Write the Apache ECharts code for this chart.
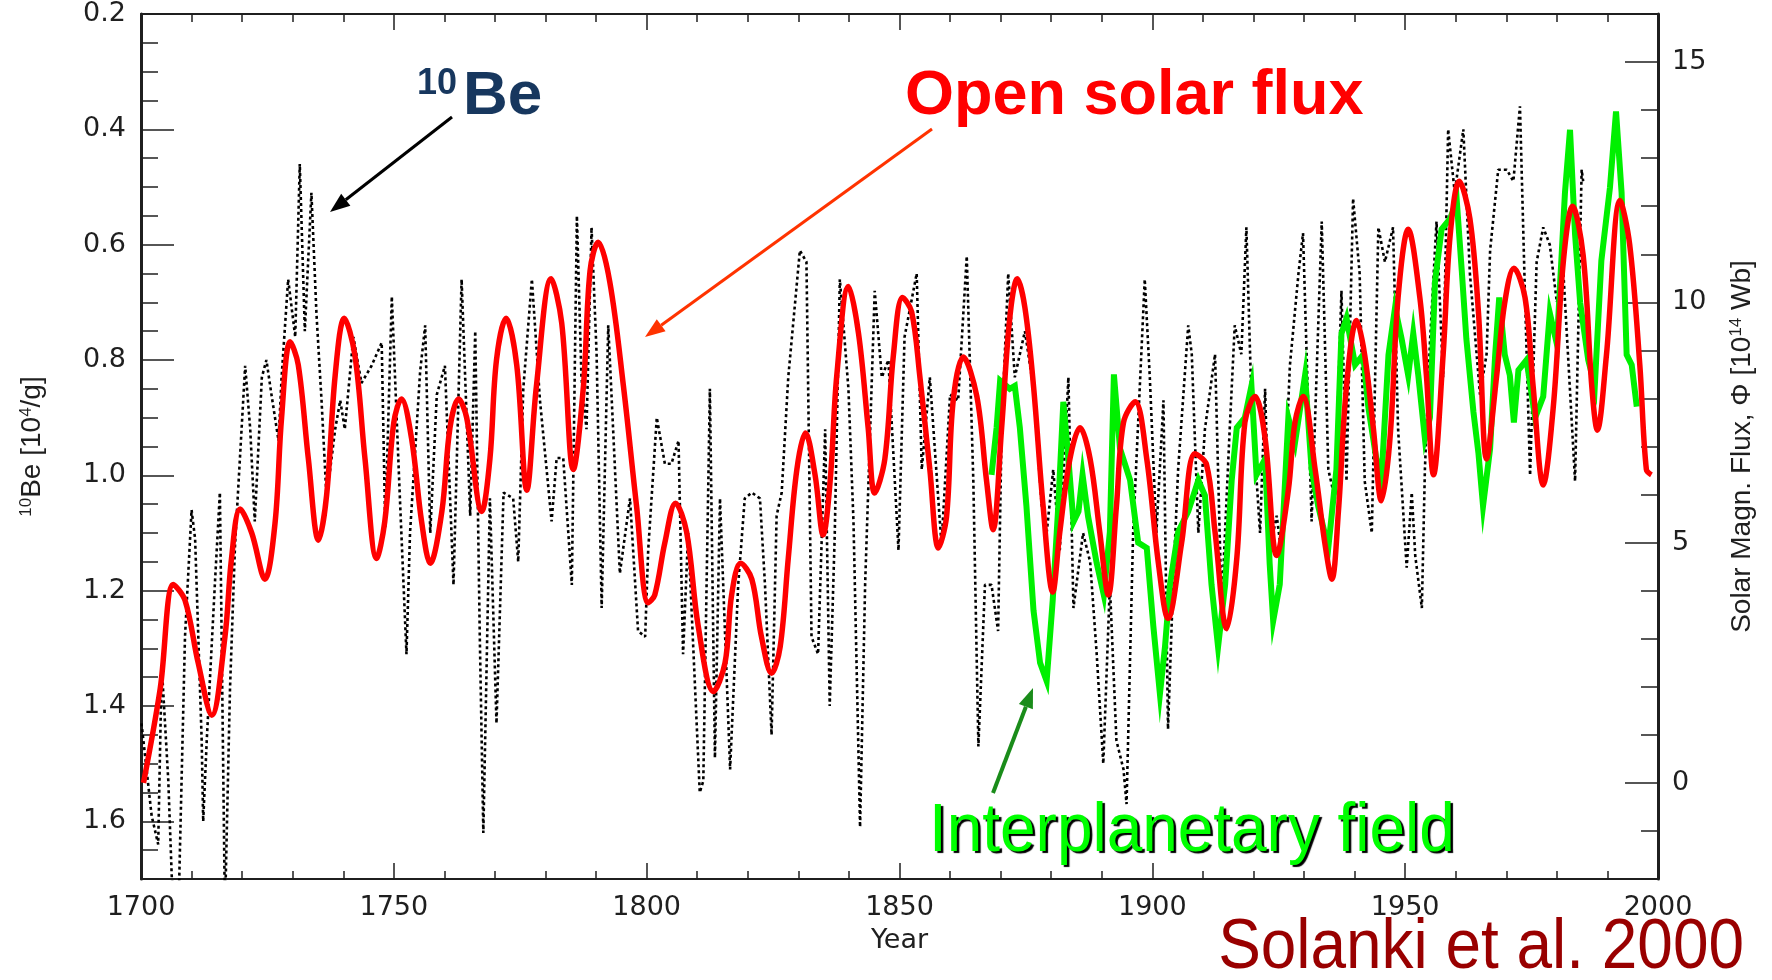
<!DOCTYPE html>
<html>
<head>
<meta charset="utf-8">
<script src="https://cdn.jsdelivr.net/npm/echarts@6/dist/echarts.min.js"></script>
<style>
  html, body { margin: 0; padding: 0; background: #ffffff; }
  #chart { width: 1772px; height: 980px; }
</style>
</head>
<body>
<div id="chart"></div>
<script>
// 10Be concentration in ice [10^4 atoms/g] (left axis, plotted inverted)
const beYears = [1700.1,1702.1,1703.4,1704.1,1705.4,1706.1,1707.4,1708.7,1710.0,1710.7,1712.0,1712.3,1713.0,1714.6,1715.6,1716.3,1716.6,1717.6,1718.6,1720.6,1721.6,1722.5,1723.9,1724.8,1725.8,1727.2,1727.8,1729.1,1729.8,1730.5,1731.4,1732.4,1733.7,1734.7,1735.7,1736.7,1738.4,1739.4,1740.3,1742.0,1743.6,1745.6,1747.6,1748.3,1749.6,
  1751.2,1752.5,1753.2,1755.2,1756.2,1757.2,1758.5,1760.1,1761.8,1763.4,1765.1,1766.1,1767.0,1767.7,1769.0,1770.3,1771.7,1773.6,1774.6,1775.6,1777.3,1778.9,1781.2,1782.2,1783.5,1785.2,1786.2,1787.1,1788.1,1789.1,1790.1,1791.1,1792.4,1794.7,1796.7,1798.3,1799.7,
  1800.3,1802.0,1803.6,1804.9,1806.3,1807.2,1808.2,1810.5,1811.2,1812.5,1813.5,1814.5,1816.5,1818.1,1819.4,1820.8,1822.4,1823.4,1824.7,1825.7,1826.7,1828.0,1830.3,1831.6,1832.6,1833.9,1835.3,1836.2,1837.2,1838.2,1839.9,1840.9,1842.2,1843.2,1845.1,1846.5,1847.8,1849.8,
  1851.0,1853.4,1854.4,1856.0,1858.3,1860.0,1861.6,1863.3,1864.6,1865.6,1866.9,1868.2,1869.5,1870.2,1871.5,1872.8,1874.8,1876.5,1878.1,1879.1,1880.4,1881.7,1883.4,1884.4,1886.3,1887.7,1889.0,1890.3,1891.6,1892.9,1894.3,1894.9,1896.2,1897.5,1898.5,1899.5,
  1900.8,1902.2,1903.1,1904.1,1905.1,1907.1,1907.8,1909.1,1910.4,1912.4,1913.7,1915.3,1916.3,1917.6,1918.6,1919.6,1921.3,1922.3,1923.2,1924.6,1925.6,1927.2,1928.9,1929.8,1931.5,1933.5,1934.8,1936.1,1937.4,1938.4,1939.7,1941.0,1942.0,1943.4,1944.7,1946.0,1947.6,1948.6,
  1950.3,1951.3,1952.0,1953.3,1953.9,1954.9,1956.2,1957.5,1958.5,1959.8,1961.5,1962.8,1964.8,1966.1,1966.8,1968.4,1970.1,1971.4,1972.7,1973.7,1974.7,1976.0,1977.3,1978.6,1980.0,1981.3,1983.6,1984.9,1985.2];
const beValues = [1.43,1.59,1.64,1.33,1.53,1.70,1.76,1.28,1.06,1.11,1.46,1.60,1.46,1.19,1.03,1.54,1.76,1.37,1.12,0.81,0.92,1.08,0.83,0.80,0.86,0.94,0.83,0.66,0.71,0.76,0.46,0.75,0.51,0.72,0.87,1.04,0.92,0.87,0.92,0.76,0.84,0.81,0.77,1.09,0.69,
  1.04,1.31,1.10,0.82,0.74,1.10,0.86,0.81,1.19,0.66,1.07,0.75,1.28,1.62,1.04,1.43,1.03,1.04,1.15,0.85,0.66,0.87,1.08,0.97,0.97,1.19,0.55,0.83,0.92,0.57,0.79,1.23,0.74,1.17,1.04,1.27,1.28,
  1.13,0.90,0.98,0.98,0.94,1.31,1.10,1.55,1.53,0.85,1.49,1.04,1.51,1.19,1.04,1.03,1.04,1.19,1.45,1.07,1.03,0.83,0.61,0.63,1.28,1.31,0.92,1.40,1.10,0.66,0.85,1.08,1.61,1.19,0.68,0.83,0.80,1.13,
  0.76,0.65,0.99,0.83,1.12,0.86,0.87,0.62,1.01,1.47,1.19,1.19,1.27,0.92,0.65,0.83,0.75,0.85,1.05,1.10,0.99,1.13,0.83,1.23,1.10,1.15,1.31,1.50,1.19,1.46,1.51,1.57,1.10,0.85,0.66,0.83,
  1.10,0.87,1.44,1.19,0.99,0.74,0.79,1.10,0.92,0.79,1.23,0.92,0.74,0.79,0.57,0.87,1.10,0.85,1.13,1.07,1.14,0.81,0.65,0.58,1.08,0.56,0.99,1.04,0.68,1.01,0.52,0.65,1.01,1.10,0.57,0.63,0.57,0.92,
  1.16,1.03,1.14,1.23,0.99,0.77,0.56,0.83,0.40,0.51,0.40,0.65,0.86,0.79,0.61,0.47,0.47,0.49,0.36,0.69,1.00,0.63,0.57,0.60,0.70,0.65,1.01,0.47,0.49];

// Open solar magnetic flux [10^14 Wb] (right axis)
const fluxYears = [1700.5,1703.8,1706.4,1708.7,1711.3,1714.0,1716.6,1717.9,1719.6,1721.9,1724.5,1726.5,1727.8,1729.5,1731.1,1733.1,1735.1,1736.7,1738.4,1740.2,1742.3,1744.3,1746.6,1748.2,
  1750.0,1751.5,1753.5,1755.5,1757.2,1759.5,1761.1,1762.8,1764.4,1767.4,1769.0,1770.3,1772.2,1774.3,1776.3,1778.2,1781.1,1783.2,1785.5,1787.5,1788.8,1790.4,1792.7,1795.4,1798.0,
  1800.3,1801.6,1803.6,1805.7,1807.9,1810.2,1813.2,1815.5,1816.8,1818.6,1820.8,1822.7,1824.7,1826.4,1828.0,1829.7,1831.4,1833.3,1834.9,1836.3,1837.6,1839.9,1841.9,1843.8,1845.1,1847.1,1848.8,
  1850.6,1852.4,1854.0,1856.0,1857.7,1859.3,1860.6,1862.6,1865.3,1867.2,1868.5,1870.2,1871.8,1873.3,1874.8,1876.5,1878.4,1880.3,1881.7,1883.7,1885.7,1887.7,1889.6,1891.3,1892.9,1894.3,1896.6,1898.9,
  1901.2,1903.1,1905.8,1908.4,1910.7,1912.4,1914.7,1916.7,1918.3,1920.3,1922.3,1924.6,1926.9,1928.2,1929.8,1932.2,1934.1,1935.5,1936.8,1938.4,1940.4,1942.0,1943.7,1945.3,1947.0,1948.6,
  1950.6,1952.9,1954.2,1955.6,1957.5,1958.9,1960.7,1962.8,1964.5,1966.1,1968.1,1969.7,1971.5,1973.7,1975.3,1977.3,1979.3,1981.3,1983.1,1985.2,1986.9,1988.0,1989.8,1992.5,1994.4,1996.4,1997.7,1998.7];
const fluxValues = [0.0,1.96,4.13,3.8,2.5,1.41,3.04,4.67,5.7,5.2,4.24,5.4,7.6,9.18,8.7,6.74,5.05,5.98,8.48,9.67,8.9,6.74,4.67,5.43,
  7.5,7.99,7.17,5.43,4.57,5.65,7.39,7.99,7.6,5.65,6.74,8.8,9.67,8.7,6.09,8.26,10.49,9.57,6.52,8.26,10.65,11.25,10.43,8.26,5.76,
  3.75,3.91,5.0,5.82,5.22,3.26,1.9,2.5,3.91,4.57,4.24,3.04,2.28,2.83,4.67,6.52,7.28,6.41,5.16,6.3,8.48,10.33,9.35,7.39,6.03,6.74,8.91,
  10.1,9.8,8.48,6.52,4.89,5.54,7.93,8.86,8.04,6.3,5.27,7.39,9.67,10.49,9.89,8.26,5.76,3.97,5.22,6.74,7.39,6.74,5.22,3.91,5.76,7.5,7.93,6.74,
  4.57,3.42,5.0,6.85,6.63,5.22,3.21,4.67,7.5,8.04,7.17,4.73,6.09,7.5,8.04,6.52,5.0,4.24,5.65,8.26,9.62,8.9,7.39,5.87,7.17,10.1,
  11.52,10.1,8.48,6.41,8.9,11.4,12.52,11.74,9.78,6.74,8.48,10.0,10.71,10.1,8.26,6.2,7.83,10.87,12.0,10.98,8.26,7.34,8.9,12.12,11.2,8.7,6.52,6.41];

// Interplanetary magnetic flux from geomagnetic data [10^14 Wb] (right axis)
const imfYears = [1868.2,1869.2,1869.9,1871.8,1872.8,1873.8,1875.1,1876.5,1877.8,1879.1,1880.3,1881.4,1882.4,1883.4,1884.4,1885.4,1886.2,1887.3,1889.0,1890.4,1891.6,1892.4,1893.6,1895.6,1897.2,1898.9,
  1900.2,1901.5,1902.5,1903.5,1905.1,1907.1,1909.1,1910.4,1911.7,1913.0,1914.4,1915.7,1916.7,1918.3,1919.6,1920.6,1922.3,1923.2,1923.9,1925.2,1926.9,1928.2,1930.2,1931.5,1932.8,1934.8,1936.4,1937.4,1938.4,1940.1,1941.7,1942.7,1944.3,1945.3,1946.7,1948.0,1949.3,
  1950.6,1951.6,1952.6,1953.9,1954.9,1955.9,1957.2,1958.9,1960.2,1961.2,1962.1,1963.5,1964.5,1965.4,1966.8,1967.8,1968.6,1969.7,1970.7,1971.5,1972.4,1974.0,1975.7,1977.3,1978.6,1980.0,1981.6,1982.6,1983.6,1984.6,1986.2,1987.5,1988.8,1990.5,1991.7,1992.8,1993.8,1994.8,1995.8];
const imfValues = [6.41,7.39,8.37,8.2,8.26,7.39,5.76,3.59,2.5,2.12,3.8,5.76,7.93,6.74,5.43,5.65,6.41,5.54,4.57,3.91,5.22,8.5,6.96,6.3,5.0,4.89,
  3.26,1.85,2.83,4.13,5.22,5.65,6.3,5.98,4.13,2.83,4.13,6.3,7.39,7.6,8.26,6.41,6.74,4.57,3.37,4.13,7.6,7.07,8.48,6.52,5.76,4.89,6.52,9.35,9.67,8.7,8.91,7.83,6.74,6.3,8.91,9.89,9.24,
  8.48,9.35,8.48,7.17,7.6,10.43,11.52,11.74,12.12,10.65,9.24,7.72,6.85,5.76,6.96,8.91,10.1,8.91,8.48,7.5,8.59,8.8,7.6,8.04,9.78,9.13,12.28,13.59,11.41,10.0,8.8,8.26,10.87,12.39,13.97,12.28,8.91,8.7,7.83];

const pairs = (xs, ys) => xs.map((x, i) => [x, ys[i]]);

const ink = '#1f1f1f';
const tickFont = { fontFamily: 'DejaVu Sans', fontSize: 27, color: ink };
const nameFont = { fontFamily: 'Liberation Sans', fontSize: 28, color: ink };
const supStyle = { fontFamily: 'Liberation Sans', fontSize: 17, verticalAlign: 'top', color: ink };
const frameY = { show: true, onZero: false, lineStyle: { color: ink, width: 3 } };
const frameX = { show: true, onZero: false, lineStyle: { color: ink, width: 2 } };
const tickLine = { color: ink, width: 1.5 };

// arrow as a shaft plus a triangular head, in pixel space
function arrow(x1, y1, x2, y2, color, width, headLen, headW) {
  const a = Math.atan2(y2 - y1, x2 - x1);
  const bx = x2 - headLen * Math.cos(a), by = y2 - headLen * Math.sin(a);
  const nx = -Math.sin(a) * headW / 2, ny = Math.cos(a) * headW / 2;
  return [
    { type: 'line', z: 100, shape: { x1: x1, y1: y1, x2: bx, y2: by }, style: { stroke: color, lineWidth: width } },
    { type: 'polygon', z: 100, shape: { points: [[x2, y2], [bx + nx, by + ny], [bx - nx, by - ny]] }, style: { fill: color } }
  ];
}

const chart = echarts.init(document.getElementById('chart'), null, { renderer: 'canvas' });

chart.setOption({
  backgroundColor: '#ffffff',
  animation: false,
  grid: { left: 141, right: 114, top: 14, bottom: 101 },
  xAxis: [
    {
      type: 'value', position: 'bottom', min: 1700, max: 2000, interval: 50,
      axisLine: frameX,
      axisTick: { show: true, inside: true, length: 16, lineStyle: tickLine },
      minorTick: { show: true, splitNumber: 5, length: 8, lineStyle: tickLine },
      axisLabel: Object.assign({ margin: 15, formatter: v => String(v) }, tickFont),
      splitLine: { show: false },
      name: 'Year', nameLocation: 'middle', nameGap: 48,
      nameTextStyle: { fontFamily: 'DejaVu Sans', fontSize: 27, color: ink }
    },
    {
      type: 'value', position: 'top', min: 1700, max: 2000, interval: 50,
      axisLine: frameX,
      axisTick: { show: true, inside: true, length: 16, lineStyle: tickLine },
      minorTick: { show: true, splitNumber: 5, length: 8, lineStyle: tickLine },
      axisLabel: { show: false },
      splitLine: { show: false }
    }
  ],
  yAxis: [
    {
      type: 'value', position: 'left', inverse: true, min: 0.2, max: 1.7, interval: 0.2,
      axisLine: frameY,
      axisTick: { show: true, inside: true, length: 33, lineStyle: tickLine },
      axisLabel: Object.assign({ margin: 15, showMaxLabel: false, formatter: v => v.toFixed(1) }, tickFont),
      splitLine: { show: false },
      name: '{sup|10}Be [10{sup|4}/g]', nameLocation: 'middle', nameGap: 95,
      nameTextStyle: Object.assign({ rich: { sup: supStyle } }, nameFont)
    },
    {
      type: 'value', position: 'left', inverse: true, min: 0.2, max: 1.7, interval: 0.05,
      axisLine: { show: false },
      axisTick: { show: true, inside: true, length: 17, lineStyle: tickLine },
      axisLabel: { show: false },
      splitLine: { show: false }
    },
    {
      type: 'value', position: 'right', min: -2, max: 16, splitNumber: 4, minInterval: 5, maxInterval: 5,
      axisLine: frameY,
      axisTick: { show: true, inside: true, length: 33, lineStyle: tickLine },
      axisLabel: Object.assign({ margin: 14, showMinLabel: false, showMaxLabel: false }, tickFont),
      splitLine: { show: false },
      name: 'Solar Magn. Flux, \u03A6 [10{sup|14} Wb]', nameLocation: 'middle', nameGap: 70,
      nameTextStyle: Object.assign({ rich: { sup: supStyle } }, nameFont)
    },
    {
      type: 'value', position: 'right', min: -2, max: 16, interval: 1,
      axisLine: { show: false },
      axisTick: { show: true, inside: true, length: 17, lineStyle: tickLine },
      axisLabel: { show: false },
      splitLine: { show: false }
    }
  ],
  series: [
    {
      name: '10Be', type: 'line', xAxisIndex: 0, yAxisIndex: 0,
      data: pairs(beYears, beValues),
      showSymbol: false, symbol: 'none', clip: true,
      lineStyle: { color: '#000000', width: 2.6, type: [3, 3] }
    },
    {
      name: 'Interplanetary field', type: 'line', xAxisIndex: 0, yAxisIndex: 2,
      data: pairs(imfYears, imfValues),
      showSymbol: false, symbol: 'none', clip: true,
      lineStyle: { color: '#00f000', width: 6, join: 'miter' }
    },
    {
      name: 'Open solar flux', type: 'line', xAxisIndex: 0, yAxisIndex: 2,
      data: pairs(fluxYears, fluxValues),
      showSymbol: false, symbol: 'none', clip: true, smooth: 0.35,
      lineStyle: { color: '#ff0000', width: 5.5 }
    }
  ],
  graphic: [
    {
      type: 'text', z: 100, x: 417, y: 66,
      style: {
        text: '{s|10}{b|Be}', verticalAlign: 'top',
        rich: {
          s: { fontFamily: 'Liberation Sans', fontWeight: 'bold', fontSize: 36, fill: '#17375e', verticalAlign: 'top', padding: [0, 6, 0, 0] },
          b: { fontFamily: 'Liberation Sans', fontWeight: 'bold', fontSize: 62, fill: '#17375e' }
        }
      }
    },
    {
      type: 'text', z: 100, x: 905, y: 65,
      style: { text: 'Open solar flux', fontFamily: 'Liberation Sans', fontWeight: 'bold', fontSize: 63, fill: '#ff0000', verticalAlign: 'top' }
    },
    {
      type: 'text', z: 100, x: 929, y: 798, scaleX: 0.94,
      style: {
        text: 'Interplanetary field', fontFamily: 'Liberation Sans', fontSize: 68, fill: '#00ff00', verticalAlign: 'top',
        textShadowColor: '#000000', textShadowOffsetX: 2.5, textShadowOffsetY: 2.5, textShadowBlur: 1
      }
    },
    {
      type: 'text', z: 100, x: 1744, y: 914, scaleX: 0.913,
      style: { text: 'Solanki et al. 2000', fontFamily: 'Liberation Sans', fontSize: 70, fill: '#990000', textAlign: 'right', verticalAlign: 'top' }
    }
  ]
    .concat(arrow(452, 117, 330, 212, '#000000', 3, 20, 15))
    .concat(arrow(932, 129, 645, 337, '#ff3300', 3, 20, 15))
    .concat(arrow(993, 793, 1033, 688, '#1a8c1a', 4, 20, 15))
});
</script>
</body>
</html>
